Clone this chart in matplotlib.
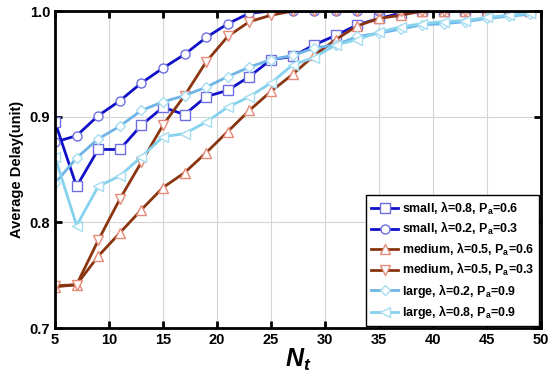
import matplotlib
matplotlib.use('Agg')
import matplotlib.pyplot as plt

plt.rcParams['font.family'] = ['Liberation Sans', 'DejaVu Sans']
plt.rcParams['font.weight'] = 'bold'
plt.rcParams['mathtext.fontset'] = 'custom'
plt.rcParams['mathtext.rm'] = 'Liberation Sans:bold'
plt.rcParams['mathtext.it'] = 'Liberation Sans:bold:italic'
plt.rcParams['mathtext.bf'] = 'Liberation Sans:bold'

# Daten
n_t = [5, 7, 9, 11, 13, 15, 17, 19, 21, 23, 25, 27, 29, 31, 33, 35, 37, 39, 41, 43, 45, 47, 49]

small_08 = [0.895, 0.834, 0.869, 0.869, 0.892, 0.909, 0.902, 0.919, 0.925, 0.938, 0.954, 0.957,
            0.968, 0.977, 0.987, 0.993, 0.998, 1.0, 1.0, 1.0, 1.0, 1.0, 1.0]
small_02 = [0.876, 0.882, 0.901, 0.915, 0.932, 0.946, 0.959, 0.975, 0.988, 0.998, 1.0, 1.0,
            1.0, 1.0, 1.0, 1.0, 1.0, 1.0, 1.0, 1.0, 1.0, 1.0, 1.0]
medium_06 = [0.739, 0.741, 0.768, 0.790, 0.812, 0.833, 0.847, 0.866, 0.886, 0.906, 0.924, 0.940,
             0.958, 0.973, 0.986, 0.993, 0.996, 1.0, 1.0, 1.0, 1.0, 1.0, 1.0]
medium_03 = [0.740, 0.741, 0.783, 0.822, 0.857, 0.892, 0.920, 0.952, 0.976, 0.990, 0.996, 1.0,
             1.0, 1.0, 1.0, 1.0, 1.0, 1.0, 1.0, 1.0, 1.0, 1.0, 1.0]
large_02 = [0.837, 0.861, 0.879, 0.891, 0.906, 0.914, 0.920, 0.928, 0.938, 0.947, 0.954, 0.958,
            0.965, 0.968, 0.976, 0.979, 0.983, 0.987, 0.988, 0.990, 0.993, 0.995, 0.997]
large_08 = [0.862, 0.797, 0.834, 0.844, 0.862, 0.881, 0.884, 0.895, 0.909, 0.919, 0.932, 0.949,
            0.956, 0.968, 0.973, 0.980, 0.985, 0.988, 0.990, 0.991, 0.994, 0.996, 0.998]

labels = [r'small, λ=0.8, P$_\mathregular{a}$=0.6',
          r'small, λ=0.2, P$_\mathregular{a}$=0.3',
          r'medium, λ=0.5, P$_\mathregular{a}$=0.6',
          r'medium, λ=0.5, P$_\mathregular{a}$=0.3',
          r'large, λ=0.2, P$_\mathregular{a}$=0.9',
          r'large, λ=0.8, P$_\mathregular{a}$=0.9']

fig = plt.figure(figsize=(5.5, 3.81), dpi=100)
ax = fig.add_axes([0.1, 0.139, 0.8836, 0.832])

blue, blue_m = '#1010C8', '#6E6EE0'
brown, brown_m = '#8A3510', '#E58A78'

ax.plot(n_t, small_08, '-s', color=blue, mec=blue_m, mfc='white', lw=2, ms=6.5, label=labels[0])
ax.plot(n_t, small_02, '-o', color=blue, mec=blue_m, mfc='white', lw=2, ms=6.5, label=labels[1])
ax.plot(n_t, medium_06, '-^', color=brown, mec=brown_m, mfc='white', lw=2, ms=7, label=labels[2])
ax.plot(n_t, medium_03, '-v', color=brown, mec=brown_m, mfc='white', lw=2, ms=7, label=labels[3])
ax.plot(n_t, large_02, '-D', color='#6FB4E6', mec='#A6DDF0', mfc='white', lw=2, ms=5.5, label=labels[4])
ax.plot(n_t, large_08, '-<', color='#86D2EE', mec='#A6DDF0', mfc='white', lw=2, ms=7, label=labels[5])

ax.set_xlim(5, 50)
ax.set_ylim(0.7, 1.0)
ax.set_xticks(range(5, 51, 5))
ax.set_yticks([0.7, 0.8, 0.9, 1.0])
ax.set_yticklabels(['0.7', '0.8', '0.9', '1.0'])
ax.grid(True, color='#D5D5D5', lw=0.8)
ax.tick_params(direction='in', length=5, width=2, top=True, right=True, labelsize=10.5)
for s in ax.spines.values():
    s.set_linewidth(2)

ax.set_ylabel('Average Delay(unit)', fontsize=10.5, fontweight='bold')
ax.set_xlabel(r'$N_t$', fontsize=18, labelpad=0)

leg = ax.legend(loc='lower right', fontsize=8.9, frameon=True, fancybox=False,
                edgecolor='black', framealpha=1, borderaxespad=0.15, handlelength=2.2,
                handletextpad=0.3, labelspacing=0.28, borderpad=0.4)
leg.get_frame().set_linewidth(1.0)

fig.savefig('out.png', dpi=100)
